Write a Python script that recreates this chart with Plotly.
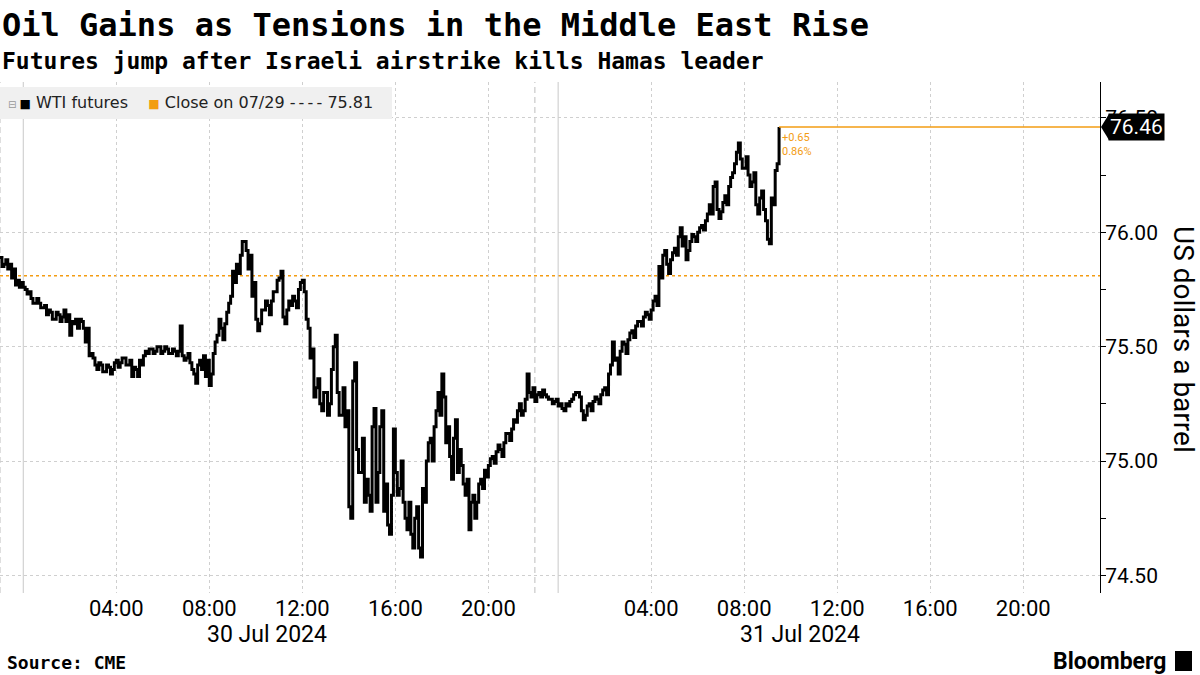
import pandas as pd
import plotly.graph_objects as go

# ---------------- data ----------------
session1_start = "2024-07-29 23:00"
session2_start = "2024-07-30 23:00"
step = "10min"
half_step = "5min"

# price at the start of each 10-minute step
session1_prices = [
    75.89, 75.86, 75.84, 75.80, 75.77, 75.76, 75.76, 75.73, 75.71, 75.69,
    75.69, 75.67, 75.64, 75.65, 75.62, 75.64, 75.63, 75.61, 75.55, 75.60,
    75.58, 75.61, 75.52, 75.46, 75.45, 75.40, 75.42, 75.39, 75.41, 75.40,
    75.44, 75.43, 75.45, 75.42, 75.37, 75.40, 75.44, 75.46, 75.47, 75.49,
    75.48, 75.50, 75.48, 75.49, 75.47, 75.48, 75.48, 75.46, 75.45, 75.43,
    75.38, 75.42, 75.40, 75.37, 75.33, 75.47, 75.55, 75.58, 75.60, 75.69,
    75.83, 75.86, 75.90, 75.96, 75.84, 75.72, 75.62, 75.60, 75.66, 75.68,
    75.70, 75.74, 75.80, 75.63, 75.66, 75.68, 75.70, 75.75, 75.79, 75.62,
    75.45, 75.28, 75.36, 75.22, 75.30, 75.25, 75.50, 75.30, 75.20, 75.15,
    74.80, 75.35, 75.05, 74.95, 74.82, 74.85, 75.15, 74.82, 75.15, 74.78,
    74.72, 74.85, 74.95, 74.88, 74.82, 74.70, 74.68, 74.75, 74.62, 74.88,
    75.00, 75.10, 75.15, 75.30, 75.38, 75.08, 75.02, 75.10, 74.95, 74.98,
    74.85, 74.70, 74.85, 74.82, 74.92, 74.96, 74.98, 75.02, 75.04, 75.05,
    75.08, 75.12, 75.14, 75.17, 75.25, 75.22, 75.38, 75.28,
]
# intra-step swing reached half-way through each step
session1_swings = [
    75.85, 75.88, 75.86, 75.84, 75.79, 75.78, 75.75, 75.74, 75.69, 75.71,
    75.67, 75.68, 75.66, 75.62, 75.65, 75.61, 75.66, 75.64, 75.61, 75.62,
    75.62, 75.58, 75.58, 75.47, 75.42, 75.43, 75.39, 75.42, 75.38, 75.43,
    75.41, 75.45, 75.42, 75.44, 75.41, 75.37, 75.42, 75.48, 75.49, 75.47,
    75.50, 75.47, 75.50, 75.47, 75.49, 75.46, 75.59, 75.44, 75.47, 75.40,
    75.34, 75.44, 75.46, 75.44, 75.38, 75.52, 75.62, 75.53, 75.65, 75.72,
    75.78, 75.82, 75.96, 75.92, 75.90, 75.78, 75.57, 75.66, 75.70, 75.64,
    75.74, 75.79, 75.83, 75.60, 75.70, 75.72, 75.67, 75.78, 75.74, 75.58,
    75.49, 75.32, 75.25, 75.30, 75.20, 75.40, 75.55, 75.20, 75.32, 75.22,
    74.75, 75.43, 74.95, 75.10, 74.92, 74.78, 75.23, 74.95, 75.22, 74.90,
    74.68, 75.14, 74.85, 75.00, 74.75, 74.82, 74.62, 74.80, 74.58, 74.82,
    75.08, 75.00, 75.22, 75.20, 75.28, 75.15, 74.92, 75.18, 75.05, 74.90,
    74.92, 74.82, 74.75, 74.90, 74.88, 74.93, 75.01, 74.99, 75.07, 75.02,
    75.12, 75.09, 75.18, 75.22, 75.20, 75.27, 75.30, 75.32,
]
session2_prices = [
    75.26, 75.30, 75.31, 75.28, 75.27, 75.26, 75.24, 75.23, 75.25, 75.26,
    75.29, 75.30, 75.22, 75.20, 75.25, 75.26, 75.27, 75.29, 75.32, 75.38,
    75.52, 75.45, 75.48, 75.51, 75.53, 75.57, 75.59, 75.61, 75.63, 75.64,
    75.66, 75.72, 75.85, 75.90, 75.86, 75.88, 75.93, 75.98, 75.94, 75.88,
    75.96, 75.98, 76.00, 76.03, 76.05, 76.12, 76.20, 76.10, 76.09, 76.16,
    76.20, 76.26, 76.35, 76.32, 76.28, 76.25, 76.22, 76.12, 76.15, 76.10,
    75.97, 76.15, 76.27, 76.46,
]
session2_swings = [
    75.29, 75.28, 75.29, 75.27, 75.25, 75.27, 75.25, 75.22, 75.24, 75.27,
    75.30, 75.28, 75.18, 75.24, 75.22, 75.28, 75.25, 75.31, 75.29, 75.42,
    75.44, 75.38, 75.52, 75.47, 75.56, 75.54, 75.61, 75.59, 75.65, 75.62,
    75.70, 75.68, 75.80, 75.92, 75.82, 75.91, 75.90, 76.02, 75.98, 75.92,
    75.99, 75.96, 76.02, 76.01, 76.08, 76.08, 76.22, 76.06, 76.13, 76.12,
    76.24, 76.30, 76.39, 76.28, 76.33, 76.20, 76.26, 76.08, 76.18, 76.05,
    75.95, 76.12, 76.30,
]
prev_close = 75.81
prev_close_label = "07/29"

tick_times = ["2024-07-30 04:00", "2024-07-30 08:00", "2024-07-30 12:00",
              "2024-07-30 16:00", "2024-07-30 20:00",
              "2024-07-31 04:00", "2024-07-31 08:00", "2024-07-31 12:00",
              "2024-07-31 16:00", "2024-07-31 20:00"]
tick_labels = ["04:00", "08:00", "12:00", "16:00", "20:00",
               "04:00", "08:00", "12:00", "16:00", "20:00"]
day_label_times = ["2024-07-30 10:30", "2024-07-31 10:25"]
day_labels = ["30 Jul 2024", "31 Jul 2024"]
midnights = ["2024-07-30 00:00", "2024-07-31 00:00"]
session_starts = ["2024-07-29 23:00", "2024-07-30 23:00"]
y_ticks = [74.5, 75.0, 75.5, 76.0, 76.5]

x_start = "2024-07-29 23:00"
x_end = "2024-08-01 00:18"

title = "Oil Gains as Tensions in the Middle East Rise"
subtitle = "Futures jump after Israeli airstrike kills Hamas leader"
source = "Source: CME"
y_title = "US dollars a barrel"
series_name = "WTI futures"

# ---------------- build ----------------
def session_series(start, prices_, swings_):
    ts = pd.date_range(start, periods=len(prices_), freq=step)
    xs, ys = [], []
    for i, (t, p) in enumerate(zip(ts, prices_)):
        xs.append(t)
        ys.append(p)
        if i < len(swings_):
            xs.append(t + pd.Timedelta(half_step))
            ys.append(swings_[i])
    return xs, ys


x1, y1 = session_series(session1_start, session1_prices, session1_swings)
x2, y2 = session_series(session2_start, session2_prices, session2_swings)
times = x1 + x2
prices = y1 + y2
last_t, last_p = times[-1], prices[-1]
chg = last_p - prev_close
pct = chg / prev_close * 100

ORANGE = "#f39c12"
MONO = "DejaVu Sans Mono"
SANS = "Roboto"
WIDE = "DejaVu Sans"

PW, PH = 1100, 511  # plot area in pixels


def px(xp):
    return xp / PW


def py(yp):  # yp: pixel from top of page; plot top = 82
    return 1 - (yp - 82) / PH


fig = go.Figure()
fig.add_trace(go.Scatter(x=times, y=prices, mode="lines",
                         line=dict(color="black", width=3, shape="hv"),
                         hoverinfo="skip", showlegend=False))

shapes = []
shapes.append(dict(type="line", xref="paper", yref="y", x0=0, x1=1,
                   y0=prev_close, y1=prev_close,
                   line=dict(color=ORANGE, width=1.5, dash="dot"), layer="below"))
shapes.append(dict(type="line", xref="x", yref="y", x0=last_t, x1=x_end,
                   y0=last_p, y1=last_p, line=dict(color=ORANGE, width=1.5)))
for m in midnights:
    shapes.append(dict(type="line", xref="x", yref="paper", x0=m, x1=m, y0=0, y1=1,
                       line=dict(color="#c8c8c8", width=1), layer="below"))
for s in session_starts:
    shapes.append(dict(type="line", xref="x", yref="paper", x0=s, x1=s, y0=0, y1=1,
                       line=dict(color="#bdbdbd", width=1, dash="6px,4px"), layer="below"))
shapes.append(dict(type="rect", xref="paper", yref="paper", x0=0, x1=px(392),
                   y0=py(119), y1=py(87),
                   fillcolor="#f0f0f0", line=dict(width=0), layer="above"))
shapes.append(dict(type="path", xref="paper", yref="y", xsizemode="pixel", ysizemode="pixel",
                   xanchor=1, yanchor=last_p,
                   path="M 1 0 L 9 -13 L 9 13 Z", fillcolor="black", line=dict(width=0)))
shapes.append(dict(type="rect", xref="paper", yref="paper",
                   x0=px(1175), x1=px(1192), y0=py(671), y1=py(651),
                   fillcolor="black", line=dict(width=0)))

dashes = "-\u2009-\u2009-\u2009-"
annotations = []
annotations.append(dict(xref="paper", yref="paper", x=0, y=py(25), xanchor="left", yanchor="middle",
                        text=f"<b>{title}</b>", showarrow=False,
                        font=dict(family=MONO, size=32, color="black")))
annotations.append(dict(xref="paper", yref="paper", x=0, y=py(61), xanchor="left", yanchor="middle",
                        text=f"<b>{subtitle}</b>", showarrow=False,
                        font=dict(family=MONO, size=23, color="black")))
annotations.append(dict(
    xref="paper", yref="paper", x=px(6), y=py(103), xanchor="left", yanchor="middle",
    text=('<span style="color:#999999;font-size:10px">⊟ </span>'
          '<span style="color:black;font-size:12px">■</span> ' + series_name + '    '
          f'<span style="color:{ORANGE};font-size:12px">■</span> '
          f'Close on {prev_close_label} {dashes} {prev_close:.2f}'),
    showarrow=False, font=dict(family=WIDE, size=16, color="#222")))
annotations.append(dict(
    xref="paper", yref="y", x=1, y=last_p, xanchor="left", yanchor="middle", xshift=8,
    text=f"{last_p:.2f}", bgcolor="black", borderpad=1, showarrow=False,
    font=dict(family=SANS, size=21, color="white")))
annotations.append(dict(
    xref="x", yref="y", x=last_t, y=last_p, xanchor="left", yanchor="top", xshift=1, yshift=-2,
    text=f"+{chg:.2f}<br>{pct:.2f}%", align="left", showarrow=False,
    font=dict(family=SANS, size=11, color=ORANGE)))
annotations.append(dict(
    xref="paper", yref="paper", x=px(1184), y=py(339), textangle=90,
    text=y_title, showarrow=False, xanchor="center", yanchor="middle",
    font=dict(family=SANS, size=28, color="black")))
for t, lab in zip(day_label_times, day_labels):
    annotations.append(dict(xref="x", yref="paper", x=t, y=py(634), yanchor="middle",
                            text=lab, showarrow=False,
                            font=dict(family=SANS, size=23, color="black")))
annotations.append(dict(xref="paper", yref="paper", x=px(5), y=py(662),
                        xanchor="left", yanchor="middle", text=f"<b>{source}</b>",
                        showarrow=False, font=dict(family=MONO, size=18, color="black")))
annotations.append(dict(xref="paper", yref="paper", x=px(1168), y=py(661),
                        xanchor="right", yanchor="middle", text="<b>Bloomberg</b>",
                        showarrow=False, font=dict(family=SANS, size=23, color="black")))

fig.update_layout(
    width=1200, height=675,
    margin=dict(l=0, r=100, t=82, b=82, autoexpand=False),
    paper_bgcolor="white", plot_bgcolor="white",
    font=dict(family=SANS, color="black"),
    shapes=shapes, annotations=annotations,
    xaxis=dict(
        type="date", range=[x_start, x_end],
        rangebreaks=[dict(bounds=[22, 23], pattern="hour")],
        tickvals=tick_times, ticktext=tick_labels,
        showgrid=True, gridcolor="#cfcfcf", griddash="dot", gridwidth=1,
        showline=False, zeroline=False, ticks="",
        tickfont=dict(family=SANS, size=22, color="black"),
    ),
    yaxis=dict(
        side="right", range=[74.423, 76.657], tickvals=y_ticks, tickformat=".2f",
        showgrid=True, gridcolor="#cfcfcf", griddash="dot", gridwidth=1,
        showline=True, linecolor="black", linewidth=1,
        ticks="outside", ticklen=5, tickcolor="black", ticklabelstandoff=-5,
        minor=dict(dtick=0.25, tick0=74.5, ticks="outside", ticklen=5, tickcolor="black", showgrid=False),
        zeroline=False,
        tickfont=dict(family=SANS, size=21, color="black"),
    ),
)

fig.write_html("out.html", config={"displayModeBar": False},
               post_script="document.body.style.margin='0px';")
